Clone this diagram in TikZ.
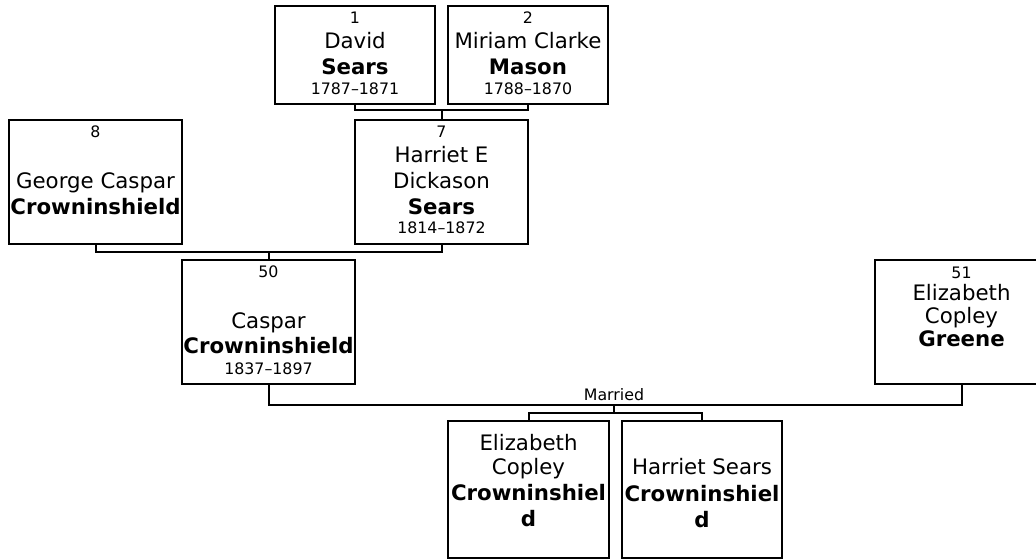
\documentclass[tikz,border=0pt]{standalone}
\usepackage{fontspec}
\setmainfont{DejaVu Sans}
\usepackage{tikz}
\newcommand{\namefont}{\fontsize{21.3}{26}\selectfont}
\newcommand{\numfont}{\fontsize{15.8}{26}\selectfont}

\begin{document}
\begin{tikzpicture}[x=1pt,y=-1pt]
            \useasboundingbox (0,0) rectangle (1036,559);

            \begin{scope}[every node/.style={draw,line width=2pt,inner sep=0pt,anchor=north west},
                          card/.style 2 args={execute at begin node={\begin{minipage}[t][#2pt][t]{#1pt}\centering\namefont},
                                              execute at end node={\end{minipage}}}]
                \node[card={160}{98.3}] (P1) at (274,5) {\vspace*{5.6pt}{\numfont 1}\\[-1pt] David\\ \textbf{Sears}\\[-6pt] {\numfont 1787–1871}};
                \node[card={160}{98.3}] (P2) at (447,5) {\vspace*{5.6pt}{\numfont 2}\\[-1pt] Miriam Clarke\\ \textbf{Mason}\\[-6pt] {\numfont 1788–1870}};
                \node[card={173}{124.3}] (P8) at (8,119) {\vspace*{5.9pt}{\numfont 8}\\[24.7pt] George Caspar\\[0.6pt] \textbf{Crowninshield}};
                \node[card={173}{124.3}] (P7) at (354,119) {\vspace*{5.9pt}{\numfont 7}\\[-1pt] Harriet E\\ Dickason\\ \textbf{Sears}\\[-7pt] {\numfont 1814–1872}};
                \node[card={173}{124.3}] (P50) at (181,259) {\vspace*{5.9pt}{\numfont 50}\\[25.3pt] Caspar\\[-1.6pt] \textbf{Crowninshield}\\[-5pt] {\numfont 1837–1897}};
                \node[card={173}{124.3}] (P51) at (874,259) {\vspace*{6.6pt}{\numfont 51}\\[-3.4pt] Elizabeth\\[-3pt] Copley\\[-3.5pt] \textbf{Greene}};
                \node[card={161}{136.7}] (C1) at (447,420) {\vspace*{13pt}Elizabeth\\[-1.5pt] Copley\\ \textbf{Crowninshiel}\\ \textbf{d}};
                \node[card={160}{136.7}] (C2) at (621,420) {\vspace*{37.8pt}Harriet Sears\\[1pt] \textbf{Crowninshiel}\\ \textbf{d}};
            \end{scope}

            \begin{scope}[line width=2pt]
                \coordinate (J1) at (P7.north |- 0,110);
                \coordinate (J2) at (P50.north |- 0,251.5);
                \coordinate (J3) at (614,405);
                \coordinate (J4) at (614,413);
                \draw (P1.south) |- (J1) -| (P2.south);
                \draw (J1) -- (P7.north);
                \draw (P8.south) |- (J2) -| (P7.south);
                \draw (J2) -- (P50.north);
                \draw (P50.south) |- (J3) -| (P51.south);
                \draw (J3) -- (J4);
                \draw (C1.north) |- (J4) -| (C2.north);
            \end{scope}

            \node[font=\numfont,anchor=base] (M) at ([yshift=4.3pt]J3) {Married};
        \end{tikzpicture}
\end{document}
